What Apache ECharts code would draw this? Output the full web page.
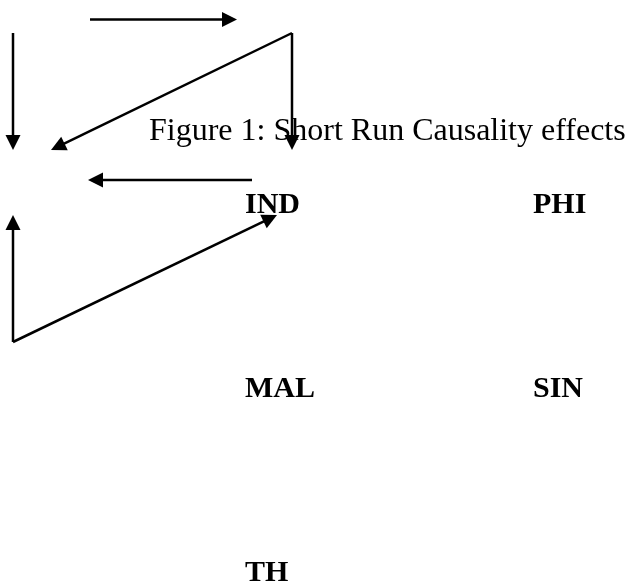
<!DOCTYPE html>
<html>
<head>
<meta charset="utf-8">
<script src="https://cdn.jsdelivr.net/npm/echarts@6/dist/echarts.min.js"></script>
<style>
html, body { margin: 0; padding: 0; background: #fff; }
#chart { width: 629px; height: 587px; }
</style>
</head>
<body>
<div id="chart"></div>
<script>
// everything sits on a hidden 0..629 x 0..587 plane, y grows downward
const countries = ['IND', 'PHI', 'MAL', 'SIN', 'TH'];
const countryX = [245, 533, 245, 533, 245];
const countryY = [205, 205, 389, 389, 573];

// arrows: start point and tip point
const arrowFrom = [[90, 19.5], [13, 33], [292, 33], [292, 33], [252, 180], [13, 342], [13, 342]];
const arrowTo = [[237, 19.5], [13, 150], [51, 150], [292, 150], [88, 180], [13, 215], [277, 215]];

const labelData = countries.map((c, i) => [countryX[i], countryY[i], c]);
const arrowData = arrowFrom.map((p, i) => [p[0], p[1], arrowTo[i][0], arrowTo[i][1]]);

const chart = echarts.init(document.getElementById('chart'));

const renderArrow = (params, api) => {
    const p1 = api.coord([api.value(0), api.value(1)]);
    const p2 = api.coord([api.value(2), api.value(3)]);
    const dx = p2[0] - p1[0];
    const dy = p2[1] - p1[1];
    const len = Math.sqrt(dx * dx + dy * dy);
    const ux = dx / len;
    const uy = dy / len;
    const headLen = 15;
    const headHalf = 7.5;
    const bx = p2[0] - ux * headLen;
    const by = p2[1] - uy * headLen;
    return {
        type: 'group',
        children: [
            {
                type: 'line',
                shape: { x1: p1[0], y1: p1[1], x2: bx + ux, y2: by + uy },
                style: { stroke: '#000', lineWidth: 2.5 }
            },
            {
                type: 'polygon',
                shape: {
                    points: [
                        [p2[0], p2[1]],
                        [bx - uy * headHalf, by + ux * headHalf],
                        [bx + uy * headHalf, by - ux * headHalf]
                    ]
                },
                style: { fill: '#000' }
            }
        ]
    };
};

const option = {
    backgroundColor: '#fff',
    animation: false,
    title: {
        text: 'Figure 1: Short Run Causality effects',
        left: 149,
        top: 116,
        padding: 0,
        textStyle: {
            fontFamily: 'Liberation Serif',
            fontWeight: 'normal',
            fontSize: 32,
            color: '#000'
        }
    },
    grid: { left: 0, right: 0, top: 0, bottom: 0 },
    xAxis: { type: 'value', min: 0, max: 629, show: false },
    yAxis: { type: 'value', min: 0, max: 587, inverse: true, show: false },
    series: [
        {
            type: 'custom',
            renderItem: renderArrow,
            data: arrowData,
            silent: true
        },
        {
            type: 'scatter',
            symbolSize: 0,
            data: labelData,
            itemStyle: { opacity: 1 },
            label: {
                show: true,
                position: [0, 0],
                align: 'left',
                verticalAlign: 'middle',
                formatter: (p) => p.data[2],
                fontFamily: 'Liberation Serif',
                fontWeight: 'bold',
                fontSize: 30,
                color: '#000',
                opacity: 1
            },
            silent: true
        }
    ]
};

chart.setOption(option);
</script>
</body>
</html>
